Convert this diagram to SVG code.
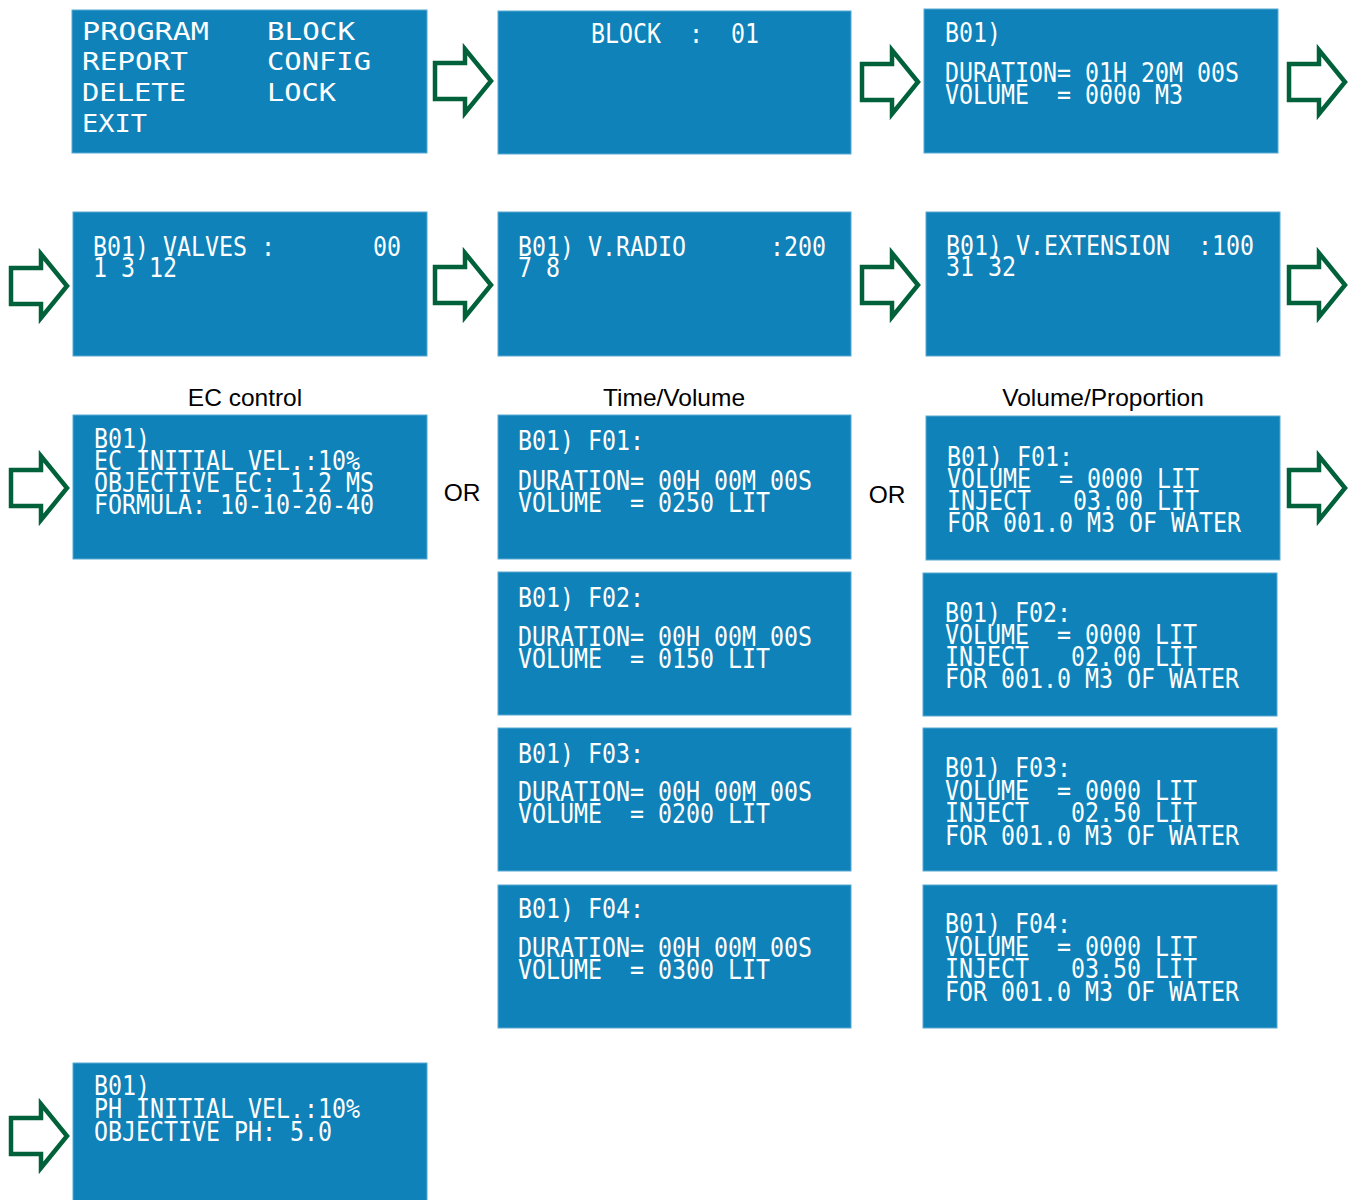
<svg xmlns="http://www.w3.org/2000/svg" width="1352" height="1200" viewBox="0 0 1352 1200" xml:space="preserve">
<defs>
<style>
.box{fill:#0e82b9;stroke:#5aaad4;stroke-width:1}
.lcd{font-family:"DejaVu Sans Mono","Liberation Mono",monospace;font-size:26px;fill:#ffffff;white-space:pre}
.menu{font-family:"DejaVu Sans Mono","Liberation Mono",monospace;font-size:25px;fill:#ffffff;white-space:pre}
.lbl{font-family:"Liberation Sans",Arial,sans-serif;font-size:24.5px;fill:#000000;text-anchor:middle}
.arr{fill:#ffffff;stroke:#00613a;stroke-width:4.5;stroke-linejoin:miter;stroke-miterlimit:10}
</style>
<path id="arrow" d="M0,-18 H30 V-32 L56,0 L30,32 V18 H0 Z"/>
</defs>
<rect width="1352" height="1200" fill="#ffffff"/>

<g id="connectors">
<use href="#arrow" class="arr" x="435" y="81"/>
<use href="#arrow" class="arr" x="862" y="82"/>
<use href="#arrow" class="arr" x="1289" y="82"/>
<use href="#arrow" class="arr" x="11" y="286"/>
<use href="#arrow" class="arr" x="435" y="285"/>
<use href="#arrow" class="arr" x="862" y="285"/>
<use href="#arrow" class="arr" x="1289" y="285"/>
<use href="#arrow" class="arr" x="11" y="488"/>
<use href="#arrow" class="arr" x="1289" y="488"/>
<use href="#arrow" class="arr" x="11" y="1136"/>
</g>

<g id="labels">
<text class="lbl" x="245" y="406">EC control</text>
<text class="lbl" x="674" y="406">Time/Volume</text>
<text class="lbl" x="1103" y="406">Volume/Proportion</text>
<text class="lbl" x="462" y="501">OR</text>
<text class="lbl" x="887" y="503">OR</text>
</g>

<g id="menu">
<rect class="box" x="72" y="10" width="355" height="143"/>
<text class="menu" x="82" y="40" textLength="127" lengthAdjust="spacingAndGlyphs">PROGRAM</text>
<text class="menu" x="267" y="40" textLength="88" lengthAdjust="spacingAndGlyphs">BLOCK</text>
<text class="menu" x="82" y="70" textLength="106" lengthAdjust="spacingAndGlyphs">REPORT</text>
<text class="menu" x="267" y="70" textLength="104" lengthAdjust="spacingAndGlyphs">CONFIG</text>
<text class="menu" x="82" y="101" textLength="104" lengthAdjust="spacingAndGlyphs">DELETE</text>
<text class="menu" x="267" y="101" textLength="69" lengthAdjust="spacingAndGlyphs">LOCK</text>
<text class="menu" x="82" y="132" textLength="65" lengthAdjust="spacingAndGlyphs">EXIT</text>
</g>

<g id="block">
<rect class="box" x="498" y="11" width="353" height="143"/>
<text class="lcd" x="591" y="43" textLength="168" lengthAdjust="spacingAndGlyphs">BLOCK  :  01</text>
</g>

<g id="duration">
<rect class="box" x="924" y="9" width="354" height="144"/>
<text class="lcd" x="945" y="42" textLength="56" lengthAdjust="spacingAndGlyphs">B01)</text>
<text class="lcd" x="945" y="82" textLength="294" lengthAdjust="spacingAndGlyphs">DURATION= 01H 20M 00S</text>
<text class="lcd" x="945" y="104" textLength="238" lengthAdjust="spacingAndGlyphs">VOLUME  = 0000 M3</text>
</g>

<g id="valves">
<rect class="box" x="73" y="212" width="354" height="144"/>
<text class="lcd" x="93" y="256" textLength="308" lengthAdjust="spacingAndGlyphs">B01) VALVES :       00</text>
<text class="lcd" x="93" y="277" textLength="84" lengthAdjust="spacingAndGlyphs">1 3 12</text>
</g>

<g id="vradio">
<rect class="box" x="498" y="212" width="353" height="144"/>
<text class="lcd" x="518" y="256" textLength="308" lengthAdjust="spacingAndGlyphs">B01) V.RADIO      :200</text>
<text class="lcd" x="518" y="277" textLength="42" lengthAdjust="spacingAndGlyphs">7 8</text>
</g>

<g id="vextension">
<rect class="box" x="926" y="212" width="354" height="144"/>
<text class="lcd" x="946" y="255" textLength="308" lengthAdjust="spacingAndGlyphs">B01) V.EXTENSION  :100</text>
<text class="lcd" x="946" y="276" textLength="70" lengthAdjust="spacingAndGlyphs">31 32</text>
</g>

<g id="ec-control">
<rect class="box" x="73" y="415" width="354" height="144"/>
<text class="lcd" x="94" y="448" textLength="56" lengthAdjust="spacingAndGlyphs">B01)</text>
<text class="lcd" x="94" y="470" textLength="266" lengthAdjust="spacingAndGlyphs">EC INITIAL VEL.:10%</text>
<text class="lcd" x="94" y="492" textLength="280" lengthAdjust="spacingAndGlyphs">OBJECTIVE EC: 1.2 MS</text>
<text class="lcd" x="94" y="514" textLength="280" lengthAdjust="spacingAndGlyphs">FORMULA: 10-10-20-40</text>
</g>

<g id="tv-f01">
<rect class="box" x="498" y="415" width="353" height="144"/>
<text class="lcd" x="518" y="450" textLength="126" lengthAdjust="spacingAndGlyphs">B01) F01:</text>
<text class="lcd" x="518" y="490" textLength="294" lengthAdjust="spacingAndGlyphs">DURATION= 00H 00M 00S</text>
<text class="lcd" x="518" y="512" textLength="252" lengthAdjust="spacingAndGlyphs">VOLUME  = 0250 LIT</text>
</g>

<g id="vp-f01">
<rect class="box" x="926" y="416" width="354" height="144"/>
<text class="lcd" x="947" y="466" textLength="126" lengthAdjust="spacingAndGlyphs">B01) F01:</text>
<text class="lcd" x="947" y="488" textLength="252" lengthAdjust="spacingAndGlyphs">VOLUME  = 0000 LIT</text>
<text class="lcd" x="947" y="510" textLength="252" lengthAdjust="spacingAndGlyphs">INJECT   03.00 LIT</text>
<text class="lcd" x="947" y="532" textLength="294" lengthAdjust="spacingAndGlyphs">FOR 001.0 M3 OF WATER</text>
</g>

<g id="tv-f02">
<rect class="box" x="498" y="572" width="353" height="143"/>
<text class="lcd" x="518" y="607" textLength="126" lengthAdjust="spacingAndGlyphs">B01) F02:</text>
<text class="lcd" x="518" y="646" textLength="294" lengthAdjust="spacingAndGlyphs">DURATION= 00H 00M 00S</text>
<text class="lcd" x="518" y="668" textLength="252" lengthAdjust="spacingAndGlyphs">VOLUME  = 0150 LIT</text>
</g>

<g id="vp-f02">
<rect class="box" x="923" y="573" width="354" height="143"/>
<text class="lcd" x="945" y="622" textLength="126" lengthAdjust="spacingAndGlyphs">B01) F02:</text>
<text class="lcd" x="945" y="644" textLength="252" lengthAdjust="spacingAndGlyphs">VOLUME  = 0000 LIT</text>
<text class="lcd" x="945" y="666" textLength="252" lengthAdjust="spacingAndGlyphs">INJECT   02.00 LIT</text>
<text class="lcd" x="945" y="688" textLength="294" lengthAdjust="spacingAndGlyphs">FOR 001.0 M3 OF WATER</text>
</g>

<g id="tv-f03">
<rect class="box" x="498" y="728" width="353" height="143"/>
<text class="lcd" x="518" y="763" textLength="126" lengthAdjust="spacingAndGlyphs">B01) F03:</text>
<text class="lcd" x="518" y="801" textLength="294" lengthAdjust="spacingAndGlyphs">DURATION= 00H 00M 00S</text>
<text class="lcd" x="518" y="823" textLength="252" lengthAdjust="spacingAndGlyphs">VOLUME  = 0200 LIT</text>
</g>

<g id="vp-f03">
<rect class="box" x="923" y="728" width="354" height="143"/>
<text class="lcd" x="945" y="777" textLength="126" lengthAdjust="spacingAndGlyphs">B01) F03:</text>
<text class="lcd" x="945" y="800" textLength="252" lengthAdjust="spacingAndGlyphs">VOLUME  = 0000 LIT</text>
<text class="lcd" x="945" y="822" textLength="252" lengthAdjust="spacingAndGlyphs">INJECT   02.50 LIT</text>
<text class="lcd" x="945" y="845" textLength="294" lengthAdjust="spacingAndGlyphs">FOR 001.0 M3 OF WATER</text>
</g>

<g id="tv-f04">
<rect class="box" x="498" y="885" width="353" height="143"/>
<text class="lcd" x="518" y="918" textLength="126" lengthAdjust="spacingAndGlyphs">B01) F04:</text>
<text class="lcd" x="518" y="957" textLength="294" lengthAdjust="spacingAndGlyphs">DURATION= 00H 00M 00S</text>
<text class="lcd" x="518" y="979" textLength="252" lengthAdjust="spacingAndGlyphs">VOLUME  = 0300 LIT</text>
</g>

<g id="vp-f04">
<rect class="box" x="923" y="885" width="354" height="143"/>
<text class="lcd" x="945" y="933" textLength="126" lengthAdjust="spacingAndGlyphs">B01) F04:</text>
<text class="lcd" x="945" y="956" textLength="252" lengthAdjust="spacingAndGlyphs">VOLUME  = 0000 LIT</text>
<text class="lcd" x="945" y="978" textLength="252" lengthAdjust="spacingAndGlyphs">INJECT   03.50 LIT</text>
<text class="lcd" x="945" y="1001" textLength="294" lengthAdjust="spacingAndGlyphs">FOR 001.0 M3 OF WATER</text>
</g>

<g id="ph-control">
<rect class="box" x="73" y="1063" width="354" height="140"/>
<text class="lcd" x="94" y="1095" textLength="56" lengthAdjust="spacingAndGlyphs">B01)</text>
<text class="lcd" x="94" y="1118" textLength="266" lengthAdjust="spacingAndGlyphs">PH INITIAL VEL.:10%</text>
<text class="lcd" x="94" y="1141" textLength="238" lengthAdjust="spacingAndGlyphs">OBJECTIVE PH: 5.0</text>
</g>
</svg>
